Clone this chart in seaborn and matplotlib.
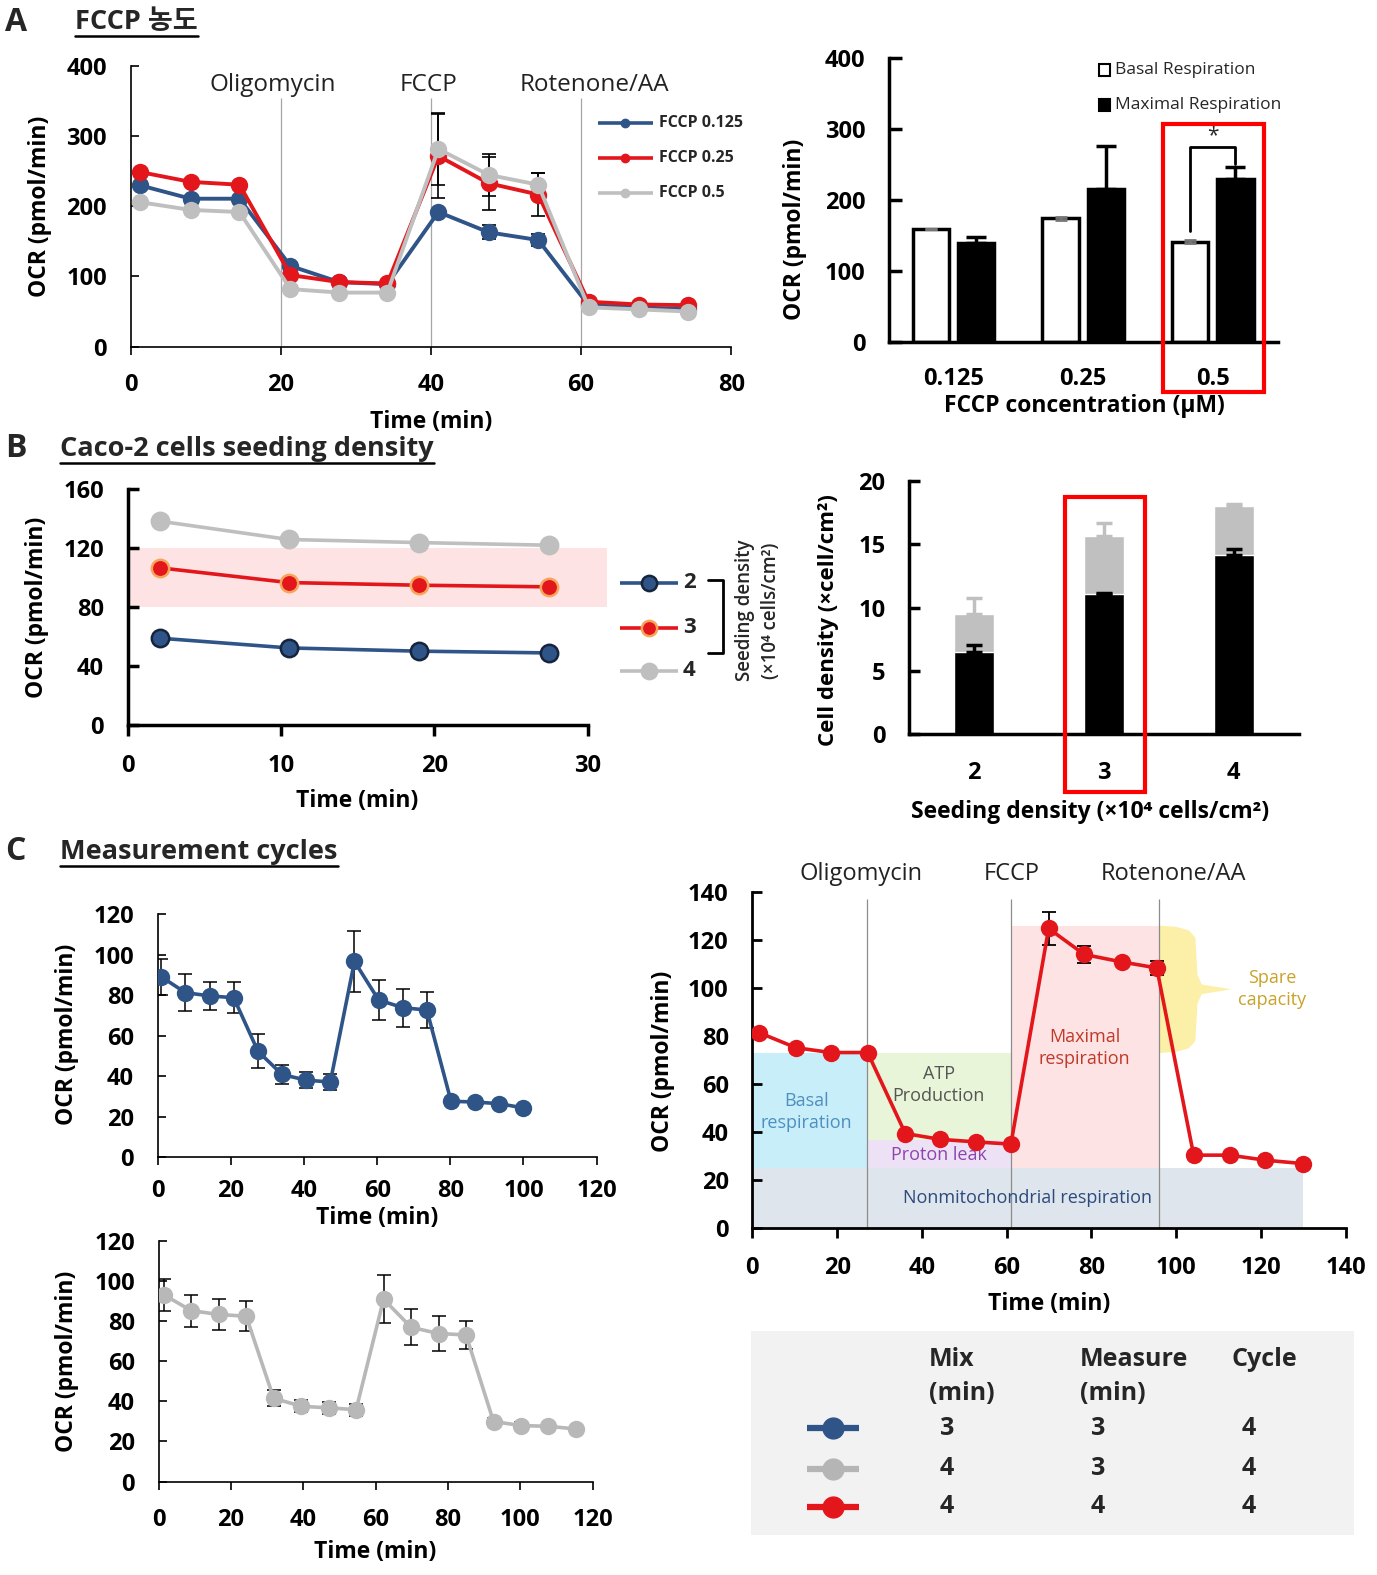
import numpy as np
import pandas as pd
import matplotlib
matplotlib.use("Agg")
import matplotlib.pyplot as plt
import seaborn as sns
from matplotlib.patches import Rectangle, Polygon

sns.set_theme(style="white")
plt.rcParams["font.family"] = ["Open Sans", "Noto Sans CJK KR", "DejaVu Sans"]
plt.rcParams["axes.unicode_minus"] = False

BLUE = "#2f5488"
RED = "#e3161c"
GRAY = "#bfbfbf"
LGRAY = "#c0c0c0"

# ---------------- data: panel A (left) ----------------
a_time = [1.3, 8, 14.5, 21.3, 27.8, 34.2, 41, 47.7, 54.3, 61, 67.7, 74.3]
a_fccp_0125 = [230, 211, 211, 115, 92, 89, 192, 163, 152, 59, 56, 53]
a_fccp_025 = [249, 235, 231, 102, 92, 90, 272, 233, 217, 64, 60, 59]
a_fccp_05 = [206, 195, 192, 82, 77, 77, 282, 245, 231, 56, 53, 50]
a_err_0125 = [0, 0, 0, 0, 0, 0, 0, 10, 8, 0, 0, 0]
a_err_025 = [0, 0, 0, 0, 0, 0, 60, 38, 30, 0, 0, 0]
a_err_05 = [0, 0, 0, 0, 0, 0, 52, 30, 17, 0, 0, 0]
a_series = ["FCCP 0.125", "FCCP 0.25", "FCCP 0.5"]
a_events = [20, 40, 60]
a_event_labels = ["Oligomycin", "FCCP", "Rotenone/AA"]
a_event_label_x = [19, 39.7, 61.8]

# ---------------- data: panel A (right) ----------------
ar_conc = ["0.125", "0.25", "0.5"]
ar_basal = [159, 174, 141]
ar_basal_err = [0.5, 2, 2]
ar_max = [139, 216, 230]
ar_max_err = [9, 60, 16]

# ---------------- data: panel B (left) ----------------
b_time = [2.1, 10.5, 19, 27.5]
b_dens2 = [59, 52.4, 50.2, 49]
b_dens3 = [106.7, 96.7, 94.9, 93.8]
b_dens4 = [138.3, 125.9, 123.8, 122]
b_band = (80, 120)

# ---------------- data: panel B (right) ----------------
br_seed = ["2", "3", "4"]
br_total = [9.5, 15.65, 18.05]
br_total_err = [1.3, 1.07, 0.15]
br_black = [6.47, 11.05, 14.2]
br_black_err = [0.55, 0.13, 0.4]

# ---------------- data: panel C ----------------
ct_time = [1, 7.6, 14.2, 20.8, 27.4, 34, 40.6, 47.2, 53.8, 60.4, 67, 73.6, 80.2, 86.8, 93.4, 100]
ct_ocr = [89, 81.2, 79.6, 78.7, 52.3, 40.8, 38, 37.1, 96.6, 77.6, 73.8, 72.6, 27.6, 27.2, 26.4, 24.3]
ct_err = [9, 9, 7, 7.6, 8.4, 4.6, 4, 4, 15, 10, 9.4, 9, 0, 0, 0, 0]

cb_time = [1.4, 9, 16.6, 24.2, 31.8, 39.4, 47, 54.6, 62.2, 69.8, 77.4, 85, 92.6, 100.2, 107.8, 115.4]
cb_ocr = [93, 85.1, 83.2, 82.3, 41.5, 37.5, 36.7, 35.8, 90.8, 76.8, 73.7, 73, 29.9, 27.9, 27.5, 26.2]
cb_err = [8, 8, 7.5, 7.5, 4, 3, 3, 3, 12, 9, 8.5, 7, 2, 2, 0, 0]

cr_time = [1.7, 10.3, 18.5, 27.2, 36.1, 44.2, 52.8, 61, 69.9, 78.3, 87.1, 95.4, 104.1, 112.6, 121, 129.8]
cr_ocr = [81.4, 75.2, 73.2, 73.2, 39.5, 37.1, 36, 35.1, 124.8, 114, 110.9, 108.4, 30.5, 30.5, 28.4, 27]
cr_err = [0, 0, 0, 0, 0, 0, 0, 0, 7, 3.5, 0, 3, 0, 0, 0, 0]
cr_events = [27, 61, 96]
cr_event_labels = ["Oligomycin", "FCCP", "Rotenone/AA"]
cr_event_label_x = [25.6, 61.1, 99.3]
cr_region_x0 = [0, 0, 27, 27, 61]
cr_region_x1 = [130, 27, 61, 61, 96]
cr_region_y0 = [0, 25, 37, 25, 25]
cr_region_y1 = [25, 73, 73, 37, 126]
cr_region_colors = ["#dee5ec", "#c8eefa", "#e9f5d9", "#ede2f5", "#fde3e3"]
cr_text = ["Nonmitochondrial respiration", "Basal\nrespiration", "ATP\nProduction",
           "Proton leak", "Maximal\nrespiration", "Spare\ncapacity"]
cr_text_x = [65, 12.8, 44, 44, 78.4, 122.7]
cr_text_y = [12.5, 48.5, 59.8, 30.5, 75.2, 99.5]
cr_text_colors = ["#2c4a7c", "#4f8fbf", "#555555", "#8e44ad", "#c0392b", "#c9a227"]

tbl_mix = [3, 4, 4]
tbl_measure = [3, 3, 4]
tbl_cycle = [4, 4, 4]
tbl_colors = [BLUE, "#b5b5b5", RED]

# ---------------- figure helpers ----------------
fig = plt.figure(figsize=(13.77, 15.75), dpi=100)
DW, DH = 1371.0, 1568.0
TICK_FS = 17
LAB_FS = 16.5


def add_ax(x0, y0, x1, y1):
    return fig.add_axes([x0 / DW, 1 - y1 / DH, (x1 - x0) / DW, (y1 - y0) / DH])


def style_axes(ax, lw=1.2, ylen=6, xlen=6, fs=TICK_FS, xpad=13):
    sns.despine(ax=ax)
    ax.set_facecolor("none")
    for s in ("left", "bottom"):
        ax.spines[s].set_linewidth(lw)
        ax.spines[s].set_color("black")
    ax.tick_params(axis="y", direction="in", length=ylen, width=lw, left=True,
                   labelsize=fs, pad=17, colors="black")
    ax.tick_params(axis="x", direction="out", length=xlen, width=lw, bottom=True,
                   labelsize=fs, pad=xpad, colors="black")
    for lab in ax.get_xticklabels() + ax.get_yticklabels():
        lab.set_fontweight("bold")


def place_ylabel(ax, text, cx, cy, fs=LAB_FS):
    ax.set_ylabel(text, fontsize=fs, fontweight="bold", color="black")
    pos = ax.get_position()
    ax.yaxis.set_label_coords((cx / DW - pos.x0) / pos.width,
                              ((1 - cy / DH) - pos.y0) / pos.height)
    ax.yaxis.label.set_va("center")


def place_xlabel(ax, text, cx, cy, fs=LAB_FS):
    ax.set_xlabel(text, fontsize=fs, fontweight="bold", color="black")
    pos = ax.get_position()
    ax.xaxis.set_label_coords((cx / DW - pos.x0) / pos.width,
                              ((1 - cy / DH) - pos.y0) / pos.height)
    ax.xaxis.label.set_va("center")


def errbars(ax, x, y, e, color="black", lw=1.1, cap=5, upper_only=False, z=4):
    x = np.asarray(x, float); y = np.asarray(y, float); e = np.asarray(e, float)
    m = e > 0
    if not m.any():
        return
    yerr = [np.zeros(m.sum()), e[m]] if upper_only else e[m]
    ax.errorbar(x[m], y[m], yerr=yerr, fmt="none", ecolor=color, elinewidth=lw,
                capsize=cap, capthick=lw, zorder=z)


# ---------------- Panel A left ----------------
axA = add_ax(130, 66, 728, 345)
dfA = pd.DataFrame({
    "time": a_time * 3,
    "ocr": a_fccp_0125 + a_fccp_025 + a_fccp_05,
    "series": sum([[s] * len(a_time) for s in a_series], []),
})
a_pal = dict(zip(a_series, [BLUE, RED, GRAY]))
axA.vlines(a_events, 0, 355, color="#a6a6a6", lw=0.9, zorder=1)
for vals, err in zip([a_fccp_0125, a_fccp_025, a_fccp_05], [a_err_0125, a_err_025, a_err_05]):
    errbars(axA, a_time, vals, err, lw=1.2, cap=5, z=2)
sns.lineplot(data=dfA, x="time", y="ocr", hue="series", palette=a_pal, hue_order=a_series,
             marker="o", markersize=12.5, markeredgewidth=0, linewidth=2.8,
             legend=False, ax=axA, zorder=3)
for lab, tx in zip(a_event_labels, a_event_label_x):
    axA.text(tx, 373, lab, ha="center", va="center", fontsize=17.5, color="#222222")
axA.set_xlim(0, 80)
axA.set_ylim(0, 400)
axA.set_xticks(range(0, 81, 20))
axA.set_yticks(range(0, 401, 100))
style_axes(axA, lw=1.2, ylen=6, xlen=6)
place_ylabel(axA, "OCR (pmol/min)", 40, 205)
place_xlabel(axA, "Time (min)", 429, 420)

# ---------------- Panel A right ----------------
axAR = add_ax(885, 58, 1272, 340)
kinds = ["Basal Respiration", "Maximal Respiration"]
dfAR = pd.DataFrame({
    "conc": ar_conc * 2,
    "kind": [kinds[0]] * 3 + [kinds[1]] * 3,
    "ocr": ar_basal + ar_max,
})
sns.barplot(data=dfAR, x="conc", y="ocr", hue="kind", order=ar_conc, hue_order=kinds,
            palette={kinds[0]: "white", kinds[1]: "black"}, edgecolor="black",
            linewidth=2.5, width=0.7, gap=0.2, errorbar=None, legend=False,
            saturation=1, ax=axAR)
bars = list(axAR.patches)
bx = [p.get_x() + p.get_width() / 2 for p in bars]
errbars(axAR, bx[:3], ar_basal, ar_basal_err, color="#777777", lw=2, cap=4)
errbars(axAR, bx[3:], ar_max, ar_max_err, color="black", lw=2.5, cap=7, upper_only=True)
# significance bracket on 0.5 uM
yl, yt = ar_basal[2] + 15, ar_max[2] + ar_max_err[2] + 28
yr = ar_max[2] + ar_max_err[2] + 5
axAR.plot([bx[2], bx[2], bx[5], bx[5]], [yl, yt, yt, yr], color="black", lw=2, zorder=5)
axAR.text((bx[2] + bx[5]) / 2, yt + 2, "*", ha="center", va="bottom", fontsize=15)
axAR.set_xlim(-0.5, 2.5)
axAR.set_ylim(0, 400)
axAR.set_yticks(range(0, 401, 100))
style_axes(axAR, lw=2.5, ylen=9, xlen=0, xpad=18)
place_ylabel(axAR, "OCR (pmol/min)", 792, 228)
place_xlabel(axAR, "FCCP concentration (μM)", 1080, 404)

# ---------------- Panel B left ----------------
axBL = add_ax(127, 487, 585, 722)
axBL.add_patch(Rectangle((0, b_band[0]), 31.3, b_band[1] - b_band[0], fc="#fde3e3",
                         ec="none", clip_on=False, zorder=0))
b_specs = [(b_dens2, BLUE, "#15253d"), (b_dens3, RED, "#f6a55a"), (b_dens4, GRAY, GRAY)]
for vals, col, mec in b_specs:
    sns.lineplot(x=b_time, y=vals, color=col, marker="o", markersize=12.5,
                 markeredgecolor=mec, markeredgewidth=1.8, linewidth=2.6, ax=axBL, zorder=3)
axBL.set_xlim(0, 30)
axBL.set_ylim(0, 160)
axBL.set_xticks(range(0, 31, 10))
axBL.set_yticks(range(0, 161, 40))
style_axes(axBL, lw=2.5, ylen=8, xlen=8)
place_ylabel(axBL, "OCR (pmol/min)", 37, 605)
place_xlabel(axBL, "Time (min)", 356, 797)

# ---------------- Panel B right ----------------
axBR = add_ax(905, 479, 1293, 731)
sns.barplot(x=br_seed, y=br_total, color=LGRAY, width=0.31, errorbar=None,
            saturation=1, ax=axBR)
sns.barplot(x=br_seed, y=br_black, color="black", width=0.31, errorbar=None,
            saturation=1, ax=axBR)
pb = list(axBR.patches)
pbx = [p.get_x() + p.get_width() / 2 for p in pb]
errbars(axBR, pbx[:3], br_total, br_total_err, color=LGRAY, lw=2.5, cap=6, upper_only=True)
errbars(axBR, pbx[3:], br_black, br_black_err, color="black", lw=2.5, cap=6, upper_only=True)
axBR.set_xlim(-0.5, 2.5)
axBR.set_ylim(0, 20)
axBR.set_yticks(range(0, 21, 5))
style_axes(axBR, lw=2.5, ylen=8, xlen=0, xpad=19)
place_ylabel(axBR, "Cell density (×cell/cm²)", 825, 617, fs=16)
place_xlabel(axBR, "Seeding density (×10⁴ cells/cm²)", 1085, 808, fs=16.5)

# ---------------- Panel C top-left ----------------
axCT = add_ax(157, 910, 594, 1152)
errbars(axCT, ct_time, ct_ocr, ct_err, lw=1.1, cap=5, z=2)
sns.lineplot(x=ct_time, y=ct_ocr, color=BLUE, marker="o", markersize=12.5,
             markeredgecolor=BLUE, markeredgewidth=0, linewidth=2.6, ax=axCT, zorder=3)
axCT.set_xlim(0, 120)
axCT.set_ylim(0, 120)
axCT.set_xticks(range(0, 121, 20))
axCT.set_yticks(range(0, 121, 20))
style_axes(axCT, lw=1.2, ylen=6, xlen=6, xpad=10)
place_ylabel(axCT, "OCR (pmol/min)", 67, 1030)
place_xlabel(axCT, "Time (min)", 375, 1213)

# ---------------- Panel C bottom-left ----------------
axCB = add_ax(158, 1235, 590, 1475)
errbars(axCB, cb_time, cb_ocr, cb_err, lw=1.1, cap=5, z=2)
sns.lineplot(x=cb_time, y=cb_ocr, color="#b8b8b8", marker="o", markersize=12.5,
             markeredgewidth=0, linewidth=2.6, ax=axCB, zorder=3)
axCB.set_xlim(0, 120)
axCB.set_ylim(0, 120)
axCB.set_xticks(range(0, 121, 20))
axCB.set_yticks(range(0, 121, 20))
style_axes(axCB, lw=1.2, ylen=6, xlen=6)
place_ylabel(axCB, "OCR (pmol/min)", 67, 1355)
place_xlabel(axCB, "Time (min)", 373, 1545)

# ---------------- Panel C right ----------------
axCR = add_ax(749, 888, 1340, 1223)
for x0, x1, y0, y1, c in zip(cr_region_x0, cr_region_x1, cr_region_y0, cr_region_y1,
                             cr_region_colors):
    axCR.fill_between([x0, x1], y0, y1, color=c, lw=0, zorder=0)
# spare-capacity brace
top, bot = cr_region_y1[4], cr_region_y1[1]
mid = (top + bot) / 2
xb = cr_region_x1[4]
brace = [(xb, top), (xb + 4, top - 0.5), (xb + 7, top - 2), (xb + 8.5, top - 5),
         (xb + 9, mid + 6), (xb + 10, mid + 2), (xb + 17, mid), (xb + 10, mid - 2),
         (xb + 9, mid - 6), (xb + 8.5, bot + 5), (xb + 7, bot + 2), (xb + 4, bot + 0.5),
         (xb, bot)]
axCR.add_patch(Polygon(brace, closed=True, fc="#fcefa8", ec="none", zorder=0))
axCR.vlines(cr_events, 0, 137, color="#8c8c8c", lw=0.9, zorder=1)
for lab, tx in zip(cr_event_labels, cr_event_label_x):
    axCR.text(tx, 147.5, lab, ha="center", va="center", fontsize=17, color="#222222",
              clip_on=False)
for txt, tx, ty, c in zip(cr_text, cr_text_x, cr_text_y, cr_text_colors):
    axCR.text(tx, ty, txt, ha="center", va="center", fontsize=13, color=c,
              linespacing=1.3, zorder=2)
errbars(axCR, cr_time, cr_ocr, cr_err, lw=1.3, cap=5, z=2)
sns.lineplot(x=cr_time, y=cr_ocr, color=RED, marker="o", markersize=12.5,
             markeredgewidth=0, linewidth=2.6, ax=axCR, zorder=3)
axCR.set_xlim(0, 140)
axCR.set_ylim(0, 140)
axCR.set_xticks(range(0, 141, 20))
axCR.set_yticks(range(0, 141, 20))
style_axes(axCR, lw=2, ylen=7, xlen=7)
place_ylabel(axCR, "OCR (pmol/min)", 660, 1057)
place_xlabel(axCR, "Time (min)", 1045, 1298)

# ---------------- overlay: titles, legends, boxes, table ----------------
ov = fig.add_axes([0, 0, 1, 1], zorder=10)
ov.set_xlim(0, DW)
ov.set_ylim(DH, 0)
ov.axis("off")
ov.patch.set_alpha(0)

for letter, y in zip(["A", "B", "C"], [22, 447, 848]):
    ov.text(5, y, letter, fontsize=23, fontweight="bold", va="center", ha="left")
titles = []
for txt, x, y in zip(["FCCP 농도", "Caco-2 cells seeding density", "Measurement cycles"],
                     [75, 60, 60], [22, 447, 848]):
    titles.append(ov.text(x, y, txt, fontsize=19.5, fontweight="bold", va="center", ha="left"))

# panel A-left legend
for name, col, y in zip(a_series, [BLUE, RED, GRAY], [122, 157, 192]):
    ov.plot([595, 650], [y, y], color=col, lw=2.6, solid_capstyle="butt")
    ov.plot([622.5], [y], "o", color=col, ms=6)
    ov.text(656, y, name, fontsize=11.5, fontweight="bold", va="center", ha="left")

# panel A-right legend
for name, fc, y in zip(kinds, ["white", "black"], [70, 105]):
    ov.add_patch(Rectangle((1094, y - 6), 11, 12, fc=fc, ec="black", lw=1.5))
    ov.text(1110, y, name, fontsize=12.5, va="center", ha="left")
ov.add_patch(Rectangle((1158, 123), 100, 267, fill=False, ec="#ff0000", lw=3))

# panel B-left legend + bracket
for (vals, col, mec), lab, y in zip(b_specs, ["2", "3", "4"], [580, 625, 668]):
    ov.plot([617, 675], [y, y], color=col, lw=2.6, solid_capstyle="butt")
    ov.plot([646], [y], "o", color=col, ms=11, mec=mec, mew=1.8)
    ov.text(680, y, lab, fontsize=16, fontweight="bold", va="center", ha="left")
ov.plot([705, 720, 720, 705], [577, 577, 650, 650], color="black", lw=2)
ov.text(742, 608, "Seeding density", rotation=90, fontsize=13.5, fontweight="semibold",
        ha="center", va="center")
ov.text(768, 608, "(×10⁴ cells/cm²)", rotation=90, fontsize=13.5, fontweight="semibold",
        ha="center", va="center")

# panel B-right red box
ov.add_patch(Rectangle((1060, 495), 80, 293, fill=False, ec="#ff0000", lw=3))

# table
ov.add_patch(Rectangle((748, 1325), 600, 203, fc="#f2f2f2", ec="none", zorder=0))
for x, lines in zip([925, 1075, 1226], [("Mix", "(min)"), ("Measure", "(min)"), ("Cycle",)]):
    for j, ln in enumerate(lines):
        ov.text(x, 1353 + 34 * j, ln, fontsize=18, fontweight="bold", ha="left", va="center")
for col, mx, ms_, cy, y in zip(tbl_colors, tbl_mix, tbl_measure, tbl_cycle, [1422, 1462, 1500]):
    ov.plot([803, 855], [y, y], color=col, lw=4.5, solid_capstyle="butt")
    ov.plot([829], [y], "o", color=col, ms=15)
    for x, v in zip([943, 1093, 1243], [mx, ms_, cy]):
        ov.text(x, y, str(v), fontsize=18, fontweight="bold", ha="center", va="center")

# underline titles
fig.canvas.draw()
r = fig.canvas.get_renderer()
inv = ov.transData.inverted()
for t in titles:
    bb = t.get_window_extent(r)
    (x0, y0), (x1, y1) = inv.transform([(bb.x0, bb.y0), (bb.x1, bb.y1)])
    ov.plot([x0, x1], [y0 + 1, y0 + 1], color="black", lw=1.8)

fig.savefig("out.png", dpi=100)
